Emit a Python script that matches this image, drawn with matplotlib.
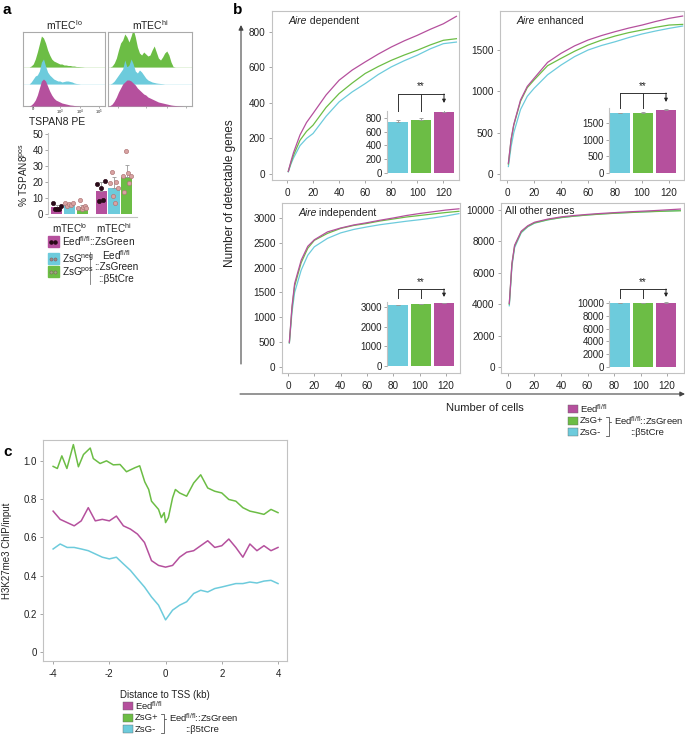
import numpy as np
import matplotlib
matplotlib.use('Agg')
import matplotlib.pyplot as plt
from matplotlib.patches import Rectangle
from matplotlib.transforms import blended_transform_factory

plt.rcParams['font.family'] = ['Liberation Sans', 'DejaVu Sans']
plt.rcParams['mathtext.default'] = 'regular'
plt.rcParams['axes.unicode_minus'] = False

# ---------------- colours ----------------
MAG = '#b5509d'
GRN = '#6cbd45'
CYN = '#6dcbdc'
GRAY = '#c2c2c2'
TXT = '#222222'

# ---------------- data: panel a (flow histograms) ----------------
flow_u = [i * 2.5 for i in range(41)]
lo_green = [0, 0, 0, 0, 1, 3, 8, 15, 23, 31, 29, 24, 17, 12, 8, 6, 5, 4, 3, 3,
            2, 2, 1.5, 1.5, 1, 1, 0.5, 0.5, 0.3, 0.2, 0, 0, 0, 0, 0, 0, 0, 0, 0, 0, 0]
lo_cyan = [0, 0, 0, 0, 2, 5, 8, 9, 13, 22, 25, 18, 12, 9, 7, 5, 4, 3, 3, 2,
           2.5, 3, 3, 2.5, 2, 1, 0.5, 0.3, 0, 0, 0, 0, 0, 0, 0, 0, 0, 0, 0, 0, 0]
lo_mag = [0, 0, 0, 0, 1, 3, 6, 11, 18, 25, 27, 25, 20, 15, 11, 8, 6, 5, 4, 3,
          2.5, 2, 1.5, 1, 0.8, 0.5, 0.3, 0.2, 0, 0, 0, 0, 0, 0, 0, 0, 0, 0, 0, 0, 0]
hi_green = [0, 0, 1, 4, 9, 17, 24, 27, 33, 30, 25, 31, 38, 30, 20, 14, 12, 15, 13, 11,
            12, 17, 21, 15, 9, 7, 10, 14, 16, 12, 5, 0.5, 0, 0, 0, 0, 0, 0, 0, 0, 0]
hi_cyan = [0, 0, 1, 3, 6, 9, 12, 15, 24, 17, 19, 25, 20, 13, 11, 14, 12, 9, 6, 4,
           3, 2, 1.5, 1, 0.7, 0.5, 0.3, 0, 0, 0, 0, 0, 0, 0, 0, 0, 0, 0, 0, 0, 0]
hi_mag = [0, 0.5, 2, 5, 9, 14, 18, 22, 24, 26, 26, 25, 23, 21, 18, 16, 14, 12, 11, 9,
          8, 7, 6, 5, 4, 3.5, 3, 2.5, 2, 1.5, 1, 0.7, 0.5, 0.3, 0.2, 0.1, 0, 0, 0, 0, 0]
flow_tick_labels = ['0', '10$^3$', '10$^4$', '10$^5$']

# ---------------- data: panel a (bar chart) ----------------
a_groups = ['mTEC$^{lo}$', 'mTEC$^{hi}$']
a_mag_mean = [4.5, 14.5]
a_cyn_mean = [6.0, 16.5]
a_grn_mean = [4.5, 23.5]
a_mag_err = [1.5, 5.5]
a_cyn_err = [1.0, 6.5]
a_grn_err = [1.5, 7.5]
a_mag_pts = [[7.3, 3.3, 3.1, 3.0, 5.0], [18.8, 8.5, 16.3, 9.0, 21.0]]
a_cyn_pts = [[6.9, 5.2, 6.5, 5.8, 7.3], [19.8, 26.7, 11.7, 7.3, 20.4, 16.3]]
a_grn_pts = [[3.8, 9.0, 3.1, 4.4, 5.2, 3.8], [24.0, 14.2, 39.8, 25.6, 19.4, 24.2]]

# ---------------- data: panel b (rarefaction curves) ----------------
cells = [1, 3, 5, 10, 15, 20, 30, 40, 50, 60, 70, 80, 90, 100, 110, 120, 130]
dep_mag = [15, 70, 120, 220, 290, 341, 445, 528, 585, 631, 675, 715, 750, 781, 815, 846, 888]
dep_grn = [14, 62, 105, 190, 240, 275, 375, 453, 512, 566, 605, 640, 670, 697, 727, 753, 762]
dep_cyn = [12, 55, 90, 160, 200, 228, 325, 406, 462, 509, 560, 603, 638, 669, 705, 734, 743]
enh_mag = [130, 420, 600, 895, 1060, 1157, 1350, 1460, 1550, 1621, 1675, 1722, 1765, 1802, 1845, 1883, 1911]
enh_grn = [120, 410, 590, 880, 1045, 1137, 1310, 1399, 1485, 1560, 1620, 1669, 1710, 1742, 1775, 1802, 1810]
enh_cyn = [90, 330, 500, 780, 940, 1036, 1200, 1318, 1420, 1500, 1555, 1600, 1650, 1694, 1730, 1762, 1790]
ind_mag = [500, 1220, 1680, 2150, 2430, 2562, 2720, 2798, 2860, 2905, 2955, 3000, 3050, 3090, 3125, 3160, 3185]
ind_grn = [490, 1180, 1630, 2100, 2390, 2550, 2690, 2790, 2850, 2890, 2940, 2980, 3020, 3050, 3080, 3110, 3135]
ind_cyn = [480, 1100, 1500, 1950, 2250, 2420, 2590, 2700, 2770, 2820, 2865, 2900, 2935, 2965, 3000, 3040, 3088]
oth_mag = [4050, 6600, 7750, 8650, 9000, 9220, 9420, 9560, 9650, 9720, 9780, 9830, 9880, 9920, 9960, 10010, 10060]
oth_grn = [4000, 6550, 7700, 8600, 8960, 9180, 9380, 9520, 9610, 9680, 9740, 9790, 9830, 9870, 9900, 9930, 9950]
oth_cyn = [3900, 6400, 7600, 8550, 8930, 9160, 9370, 9510, 9610, 9690, 9750, 9800, 9840, 9880, 9910, 9940, 9970]
# inset bars (order: ZsG-, ZsG+, Eed fl/fl)
dep_bar = [745, 765, 885]
enh_bar = [1790, 1810, 1900]
ind_bar = [3090, 3130, 3190]
oth_bar = [10000, 10000, 10050]
dep_err = [30, 30, 35]
enh_err = [25, 25, 25]
ind_err = [15, 15, 15]
oth_err = [20, 20, 20]

# ---------------- data: panel c (ChIP profiles) ----------------
tss_x = [-4 + 0.25 * i for i in range(33)]
c_mag = [0.737, 0.694, 0.677, 0.660, 0.686, 0.755, 0.686, 0.694, 0.686, 0.711, 0.660,
         0.643, 0.617, 0.573, 0.478, 0.453, 0.444, 0.453, 0.496, 0.522, 0.530, 0.556,
         0.582, 0.547, 0.556, 0.591, 0.547, 0.496, 0.565, 0.530, 0.556, 0.530, 0.547]
c_cyn = [0.539, 0.565, 0.547, 0.547, 0.539, 0.530, 0.513, 0.496, 0.487, 0.496, 0.461,
         0.427, 0.383, 0.340, 0.288, 0.245, 0.168, 0.219, 0.245, 0.263, 0.306, 0.323,
         0.314, 0.332, 0.340, 0.349, 0.358, 0.358, 0.366, 0.361, 0.371, 0.375, 0.358]
c_grn_x = [-4.0, -3.85, -3.69, -3.51, -3.28, -3.1, -2.92, -2.68, -2.57, -2.33, -2.1, -1.86,
           -1.62, -1.39, -1.09, -0.92, -0.74, -0.6, -0.5, -0.25, -0.15, -0.05, 0.0, 0.1,
           0.25, 0.35, 0.5, 0.75, 1.0, 1.25, 1.5, 1.75, 2.0, 2.25, 2.5, 2.75, 3.0, 3.25,
           3.5, 3.75, 4.0]
c_grn = [0.971, 0.96, 1.026, 0.96, 1.085, 0.969, 1.033, 1.067, 1.012, 0.986, 1.0, 0.979,
         0.981, 0.943, 0.964, 0.974, 0.89, 0.85, 0.789, 0.746, 0.703, 0.729, 0.677, 0.703,
         0.807, 0.85, 0.832, 0.815, 0.884, 0.927, 0.858, 0.841, 0.832, 0.798, 0.789, 0.755,
         0.737, 0.729, 0.72, 0.746, 0.729]

# ---------------- figure helpers ----------------
W, H = 685, 735
fig = plt.figure(figsize=(W / 100, H / 100), dpi=100)


def add_ax(l, t, r, b):
    return fig.add_axes([l / W, 1 - b / H, (r - l) / W, (b - t) / H])


def style_box(ax, fs=7.2):
    for s in ax.spines.values():
        s.set_color(GRAY)
        s.set_linewidth(0.8)
    ax.tick_params(length=2.5, width=0.6, color='#999999', labelsize=fs,
                   labelcolor=TXT, pad=2)


# ---------------- panel a: flow ----------------
for (l, r, g, c, m, title, lbl) in [(23, 105, lo_green, lo_cyan, lo_mag, 'mTEC$^{lo}$', True),
                                     (108, 192, hi_green, hi_cyan, hi_mag, 'mTEC$^{hi}$', False)]:
    ax = add_ax(l, 32, r, 106)
    base_g, base_c = 39, 22
    ax.axhline(base_g, color=GRN, lw=0.4, alpha=0.3)
    ax.axhline(base_c, color=CYN, lw=0.4, alpha=0.3)
    ax.fill_between(flow_u, base_g, np.array(g) + base_g, color=GRN, lw=0, zorder=1)
    ax.fill_between(flow_u, base_c, np.array(c) + base_c, color=CYN, lw=0, zorder=2)
    ax.fill_between(flow_u, 0, m, color=MAG, lw=0, zorder=3)
    ax.set_xlim(0, 100)
    ax.set_ylim(0, 74)
    for s in ax.spines.values():
        s.set_color('#aaaaaa')
        s.set_linewidth(0.8)
    ax.set_xticks([12, 45, 70, 93])
    ax.set_xticks([16, 20, 24, 28, 32, 36, 40, 52, 58, 62, 66, 76, 82, 86, 90], minor=True)
    ax.tick_params(axis='x', length=1.5, width=0.4, color='#777777', labelbottom=False)
    ax.tick_params(axis='x', which='minor', length=1, width=0.3, color='#777777')
    if lbl:
        trf = blended_transform_factory(ax.transData, ax.transAxes)
        for xv, tl in zip([12, 45, 70, 93], flow_tick_labels):
            ax.text(xv, -0.02, tl, transform=trf, fontsize=3.0, ha='center', va='top',
                    color=TXT)
    ax.set_yticks([])
    fig.text((l + r) / 2 / W, 1 - 25 / H, title, ha='center', va='center', fontsize=7.5, color=TXT)
fig.text(57 / W, 1 - 122 / H, 'TSPAN8 PE', ha='center', va='center', fontsize=7.5, color=TXT)

# ---------------- panel a: bars ----------------
axa = add_ax(48, 133, 137, 217)
off = 0.288
bw = 0.25
gx = np.arange(len(a_groups))
series = [(a_mag_mean, a_mag_err, a_mag_pts, MAG, -off, '#2a0a18', '#2a0a18'),
          (a_cyn_mean, a_cyn_err, a_cyn_pts, CYN, 0.0, '#b07878', '#d9a3a3'),
          (a_grn_mean, a_grn_err, a_grn_pts, GRN, off, '#b07878', '#d9a3a3')]
for mean, err, pts, col, o, ec, fc in series:
    axa.bar(gx + o, mean, width=bw, color=col, zorder=2)
    axa.errorbar(gx + o, mean, yerr=[np.zeros(len(err)), err], fmt='none',
                 ecolor='#999999', elinewidth=0.6, capsize=1.5, capthick=0.6, zorder=3)
    for gi, p in enumerate(pts):
        xs = gx[gi] + o + np.linspace(-0.09, 0.09, len(p))
        axa.scatter(xs, p, s=9, facecolor=fc, edgecolor=ec, linewidth=0.5, zorder=4)
axa.set_xlim(-0.483, 1.517)
axa.set_ylim(-1.7, 50.8)
axa.set_yticks([0, 10, 20, 30, 40, 50])
axa.set_xticks(gx)
axa.set_xticklabels(a_groups)
for s in ['top', 'right']:
    axa.spines[s].set_visible(False)
for s in ['left', 'bottom']:
    axa.spines[s].set_color(GRAY)
    axa.spines[s].set_linewidth(0.8)
axa.spines['left'].set_bounds(0, 50.8)
axa.tick_params(axis='y', length=2, width=0.6, color='#999999', labelsize=7, labelcolor=TXT, pad=1.5)
axa.tick_params(axis='x', length=0, labelsize=7.2, labelcolor=TXT, pad=3)
axa.set_ylabel('% TSPAN8$^{pos}$', fontsize=7.2, color=TXT, labelpad=2)

# ---------------- panel b: main curves ----------------
subs = [
    (272, 11, 459, 180, (-11.5, 132), (-34, 918), [0, 200, 400, 600, 800],
     dep_mag, dep_grn, dep_cyn, ('Aire', ' dependent')),
    (500, 11, 684, 180, (-5.2, 131), (-73, 1972), [0, 500, 1000, 1500],
     enh_mag, enh_grn, enh_cyn, ('Aire', ' enhanced')),
    (282, 203, 460, 373, (-4.6, 130.8), (-121, 3302), [0, 500, 1000, 1500, 2000, 2500, 3000],
     ind_mag, ind_grn, ind_cyn, ('Aire', ' independent')),
    (501, 203, 684, 373, (-5.25, 132.75), (-382, 10446), [0, 2000, 4000, 6000, 8000, 10000],
     oth_mag, oth_grn, oth_cyn, ('', 'All other genes')),
]
for (l, t, r, b, xl, yl, yt, m, g, c, ttl) in subs:
    ax = add_ax(l, t, r, b)
    ax.plot(cells, c, color=CYN, lw=0.9)
    ax.plot(cells, g, color=GRN, lw=0.9)
    ax.plot(cells, m, color=MAG, lw=0.9)
    ax.set_xlim(*xl)
    ax.set_ylim(*yl)
    ax.set_yticks(yt)
    ax.set_xticks([0, 20, 40, 60, 80, 100, 120])
    style_box(ax)
    ax.tick_params(axis='x', pad=3)
    if ttl[0]:
        t1 = ax.text(0.09, 0.94, ttl[0], transform=ax.transAxes, fontsize=7.5, style='italic',
                     va='center', ha='left', color=TXT)
        fig.canvas.draw()
        bb = t1.get_window_extent()
        inv = ax.transAxes.inverted()
        x_end = inv.transform((bb.x1, bb.y0))[0]
        ax.text(x_end, 0.94, ttl[1], transform=ax.transAxes, fontsize=7.5,
                va='center', ha='left', color=TXT)
    else:
        ax.text(0.02, 0.955, ttl[1], transform=ax.transAxes, fontsize=7.5,
                va='center', ha='left', color=TXT)

# ---------------- panel b: insets ----------------
insets = [
    (387, 111, 456, 173, dep_bar, dep_err, 900, [0, 200, 400, 600, 800], 94, 111, 103, 86),
    (609, 108, 679, 173, enh_bar, enh_err, 1950, [0, 500, 1000, 1500], 93, 107.5, 102, 86),
    (387, 302, 456, 366, ind_bar, ind_err, 3250, [0, 1000, 2000, 3000], 289, 298, 297, 282),
    (609, 301, 679, 367, oth_bar, oth_err, 10300, [0, 2000, 4000, 6000, 8000, 10000], 289, 298, 297, 282),
]
for (l, t, r, b, vals, errs, ytop, yt, br, vend, aend, star) in insets:
    ax = add_ax(l, t, r, b)
    ax.patch.set_alpha(0)
    step = 23.0
    ax.bar([0, 1, 2], vals, width=0.86, color=[CYN, GRN, MAG], zorder=2)
    ax.errorbar([0, 1, 2], vals, yerr=[[0, 0, 0], errs], fmt='none', ecolor='#999999',
                elinewidth=0.6, capsize=1.5, capthick=0.6, zorder=3)
    ax.set_xlim(-11 / step, (r - l - 11) / step)
    ax.set_ylim(0, ytop)
    ax.set_yticks(yt)
    for s in ['top', 'right', 'bottom']:
        ax.spines[s].set_visible(False)
    ax.spines['left'].set_color(GRAY)
    ax.spines['left'].set_linewidth(0.8)
    ax.tick_params(axis='x', bottom=False, labelbottom=False)
    ax.tick_params(axis='y', length=2, width=0.6, color='#999999', labelsize=7,
                   labelcolor=TXT, pad=1.5)
    tr = blended_transform_factory(ax.transData, ax.transAxes)

    def fy(y):
        return (b - y) / (b - t)
    ax.plot([0, 2], [fy(br), fy(br)], color='#333333', lw=0.7, transform=tr, clip_on=False)
    ax.plot([0, 0], [fy(br), fy(vend)], color='#333333', lw=0.7, transform=tr, clip_on=False)
    ax.plot([1, 1], [fy(br), fy(vend)], color='#333333', lw=0.7, transform=tr, clip_on=False)
    ax.annotate('', xy=(2, fy(aend)), xytext=(2, fy(br)), xycoords=tr, textcoords=tr,
                arrowprops=dict(arrowstyle='-|>', color='#222222', lw=0.7,
                                mutation_scale=5, shrinkA=0, shrinkB=0),
                annotation_clip=False)
    ax.text(1, fy(star), '**', transform=tr, ha='center', va='center', fontsize=7, color=TXT)

# ---------------- panel c ----------------
axc = add_ax(43, 440, 287, 661)
axc.plot(c_grn_x, c_grn, color=GRN, lw=1.1)
axc.plot(tss_x, c_mag, color=MAG, lw=1.1)
axc.plot(tss_x, c_cyn, color=CYN, lw=1.1)
axc.set_xlim(-4.36, 4.32)
axc.set_ylim(-0.047, 1.109)
axc.set_xticks([-4, -2, 0, 2, 4])
axc.set_yticks([0, 0.2, 0.4, 0.6, 0.8, 1.0])
axc.set_yticklabels(['0', '0.2', '0.4', '0.6', '0.8', '1.0'])
style_box(axc, fs=7)
axc.tick_params(axis='x', pad=3)
axc.set_xlabel('Distance to TSS (kb)', fontsize=7, color=TXT, labelpad=8)
axc.set_ylabel('H3K27me3 ChIP/input', fontsize=7, color=TXT, labelpad=8)

# ---------------- overlay: labels, arrows, legends ----------------
ov = fig.add_axes([0, 0, 1, 1])
ov.set_xlim(0, W)
ov.set_ylim(H, 0)
ov.axis('off')
ov.patch.set_alpha(0)

for lab, x, y in [('a', 3, 10), ('b', 233, 10), ('c', 3, 452)]:
    ov.text(x, y, lab, fontsize=11, fontweight='bold', ha='left', va='center', color='black')

# b axes arrows
ov.annotate('', xy=(241, 25), xytext=(241, 364),
            arrowprops=dict(arrowstyle='-|>', color='#444444', lw=0.8, mutation_scale=7,
                            shrinkA=0, shrinkB=0))
ov.annotate('', xy=(685, 394), xytext=(240, 394),
            arrowprops=dict(arrowstyle='-|>', color='#444444', lw=0.8, mutation_scale=7,
                            shrinkA=0, shrinkB=0))
ov.text(230, 193, 'Number of detectable genes', rotation=90, fontsize=8.5, ha='center',
        va='center', color=TXT)
ov.text(485, 408, 'Number of cells', fontsize=8, ha='center', va='center', color=TXT)

# panel a legend
ov.add_patch(Rectangle((48, 236), 11, 11, color=MAG))
ov.scatter([51.5, 55.5], [241.5, 241.5], s=5, color='#2a0a18', zorder=5)
ov.add_patch(Rectangle((48, 253), 11, 11, color=CYN))
ov.scatter([51.5, 55.5], [258.5, 258.5], s=5, facecolor='#9c8a8a', edgecolor='#806060',
           linewidth=0.4, zorder=5)
ov.add_patch(Rectangle((48, 266), 11, 11, color=GRN))
ov.scatter([51.5, 55.5], [271.5, 271.5], s=5, facecolor='#9cae80', edgecolor='#806060',
           linewidth=0.4, zorder=5)
ov.text(62, 241, 'Eed$^{fl/fl}$::ZsGreen', fontsize=7.2, va='center', ha='left', color=TXT)
ov.text(62, 259, 'ZsG$^{neg}$', fontsize=7.2, va='center', ha='left', color=TXT)
ov.text(62, 272, 'ZsG$^{pos}$', fontsize=7.2, va='center', ha='left', color=TXT)
ov.plot([90, 90], [252, 284], color='#777777', lw=0.6)
ov.text(116, 255, 'Eed$^{fl/fl}$', fontsize=7.2, va='center', ha='center', color=TXT)
ov.text(116, 267, '::ZsGreen', fontsize=7.2, va='center', ha='center', color=TXT)
ov.text(116, 279, '::β5tCre', fontsize=7.2, va='center', ha='center', color=TXT)


def geno_legend(x0, y0):
    # squares + labels + bracket
    labels = ['Eed$^{fl/fl}$', 'ZsG+', 'ZsG-']
    cols = [MAG, GRN, CYN]
    for i, (lb, col) in enumerate(zip(labels, cols)):
        yc = y0 + i * 11.5
        ov.add_patch(Rectangle((x0, yc - 4), 10, 8, facecolor=col, edgecolor='#666666', lw=0.3))
        ov.text(x0 + 12, yc, lb, fontsize=6.8, va='center', ha='left', color=TXT)
    bx = x0 + 41
    ov.plot([bx - 3, bx, bx, bx - 3], [y0 + 8, y0 + 8, y0 + 27, y0 + 27], color='#555555', lw=0.6)
    ov.plot([bx, bx + 2], [y0 + 13, y0 + 13], color='#555555', lw=0.6)
    ov.text(bx + 5, y0 + 11.5, 'Eed$^{fl/fl}$::ZsGreen', fontsize=6.8, va='center',
            ha='left', color=TXT)
    ov.text(bx + 21, y0 + 23, '::β5tCre', fontsize=6.8, va='center', ha='left', color=TXT)


geno_legend(568, 409)
geno_legend(123, 706)

fig.savefig('out.png', dpi=100)
